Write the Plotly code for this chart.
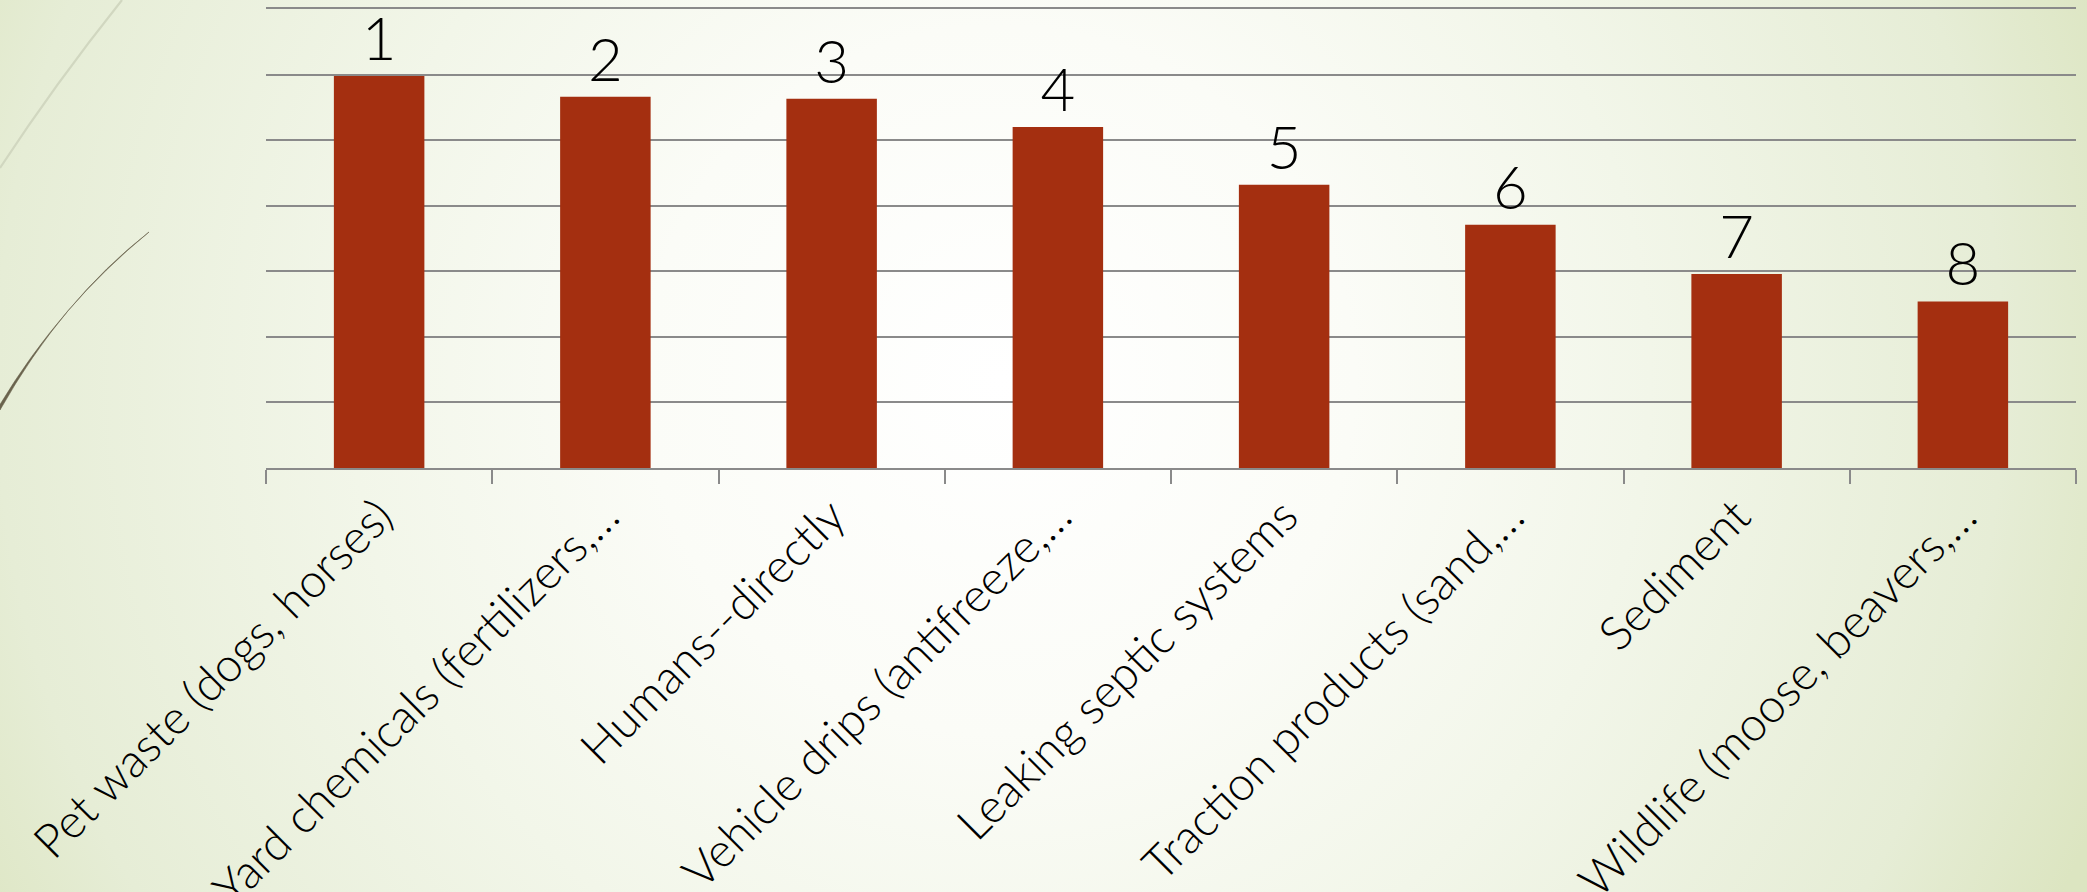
import base64
import plotly.graph_objects as go

# Pollution sources, ranked by survey score
categories = [
    "Pet waste (dogs, horses)",
    "Yard chemicals (fertilizers,…",
    "Humans--directly",
    "Vehicle drips (antifreeze,…",
    "Leaking septic systems",
    "Traction products (sand,…",
    "Sediment",
    "Wildlife (moose, beavers,…",
]
scores = [5.98, 5.66, 5.63, 5.20, 4.32, 3.71, 2.96, 2.54]
ranks = ["1", "2", "3", "4", "5", "6", "7", "8"]

W, H = 2087, 892
margin = dict(l=266, r=11, t=9, b=424)
plot_w = W - margin["l"] - margin["r"]
plot_h = H - margin["t"] - margin["b"]

# Slide-style backdrop: soft radial wash with two thin swept strokes on the left
backdrop_svg = f"""<svg xmlns="http://www.w3.org/2000/svg" width="{W}" height="{H}" viewBox="0 0 {W} {H}">
<defs>
<radialGradient id="wash" gradientUnits="userSpaceOnUse" cx="1000" cy="380" r="1180">
<stop offset="0" stop-color="#ffffff"/>
<stop offset="0.30" stop-color="#fbfcf7"/>
<stop offset="0.55" stop-color="#f2f6e9"/>
<stop offset="0.85" stop-color="#e6edd6"/>
<stop offset="1" stop-color="#dce5c1"/>
</radialGradient>
</defs>
<rect x="0" y="0" width="{W}" height="{H}" fill="url(#wash)"/>
<path d="M 0 168 Q 55 84 122 0" fill="none" stroke="#d1d7c0" stroke-width="2.2"/>
<path d="M 0 410 Q 62 300 149 232 Q 60 305 0 404.5 Z" fill="#6a634d" stroke="#6a634d" stroke-width="0.6"/>
</svg>"""
backdrop_uri = "data:image/svg+xml;base64," + base64.b64encode(backdrop_svg.encode()).decode()

grid_color = "#8a8a8a"

fig = go.Figure(
    go.Bar(
        x=categories,
        y=scores,
        text=ranks,
        textposition="outside",
        constraintext="none",
        cliponaxis=False,
        textfont=dict(family="Lato", size=60, color="#000000", weight=300),
        marker=dict(color="#a42f10", line=dict(width=0)),
        hoverinfo="skip",
    )
)

fig.update_layout(
    width=W,
    height=H,
    margin=margin,
    paper_bgcolor="rgba(0,0,0,0)",
    plot_bgcolor="rgba(0,0,0,0)",
    bargap=0.6,
    showlegend=False,
    images=[
        dict(
            source=backdrop_uri,
            xref="paper",
            yref="paper",
            x=-margin["l"] / plot_w,
            y=1 + margin["t"] / plot_h,
            sizex=W / plot_w,
            sizey=H / plot_h,
            xanchor="left",
            yanchor="top",
            sizing="stretch",
            layer="below",
        )
    ],
)

fig.update_xaxes(
    type="category",
    showline=True,
    mirror=True,
    linecolor=grid_color,
    linewidth=1.6,
    ticks="outside",
    tickson="boundaries",
    ticklen=14,
    tickwidth=1.6,
    tickcolor=grid_color,
    tickangle=-45,
    tickfont=dict(family="Lato", size=47, color="#000000", weight=300),
    showgrid=False,
    automargin=False,
)

fig.update_yaxes(
    range=[0, 7],
    dtick=1,
    showgrid=True,
    gridcolor=grid_color,
    gridwidth=1.6,
    zeroline=False,
    showticklabels=False,
    ticks="",
    automargin=False,
)

fig.write_html("out.html")
